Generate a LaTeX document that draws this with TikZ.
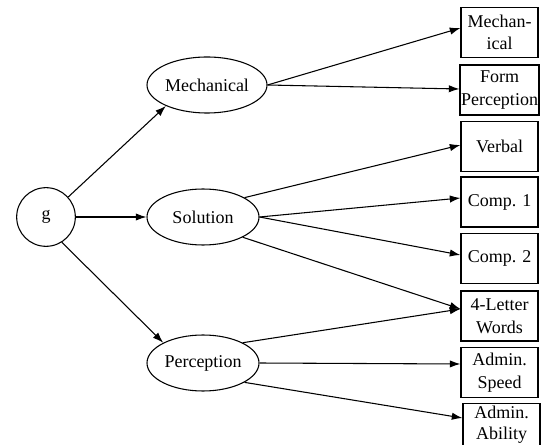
\documentclass[tikz,border=0pt]{standalone}
\usepackage{fontspec}
\setmainfont{Liberation Serif}
\usetikzlibrary{shapes.geometric,arrows.meta,calc}

\begin{document}
\begin{tikzpicture}[x=0.75pt,y=0.75pt,yscale=-1,xscale=1,
  every node/.style={font=\fontsize{13.5}{17}\selectfont},
  factor/.style={draw,ellipse,line width=0.8,minimum width=84pt,minimum height=42pt,inner sep=0pt},
  testbox/.style={draw,rectangle,line width=0.8,minimum width=57.75pt,minimum height=37.5pt,inner sep=0.75pt,align=center},
  link/.style={line width=0.8,-{Latex[length=8pt,width=5.5pt]}}]
\useasboundingbox (0,0) rectangle (546,445);

%Shape: Circle
\node [draw,circle,line width=0.8,minimum size=44pt,inner sep=0pt] (g) at (46,217) {g};
%Shape: Ellipses
\node [factor,minimum width=90pt] (mech) at (207,85) {Mechanical};
\node [factor] (sol) at (203,217) {Solution};
\node [factor] (perc) at (203,363) {Perception};

% Text Nodes
\node [testbox] (mechtest) at (499.5,32.5) {Mechan-\\ical};
\node [testbox] (form) at (499.5,90) {Form\\Perception};
\node [testbox] (verbal) at (499.5,146.5) {Verbal};
\node [testbox] (comp1) at (499.5,202) {Comp. 1};
\node [testbox] (comp2) at (499.5,258.5) {Comp. 2};
\node [testbox] (letters) at (499.5,316) {4-Letter\\Words};
\node [testbox] (speed) at (499.5,372.5) {Admin.\\Speed};
\node [testbox,minimum height=32pt,font=\fontsize{13.5}{15.5}\selectfont] (ability) at (501.5,425) {Admin.\\Ability};

%Straight Lines
\draw [link] (g.42) -- (mech.207);
\draw [link] (g.east) -- (sol.west);
\draw [link] (g.-58) -- (perc.153);
%Straight Lines
\draw [link] (mech.east) -- ($(mechtest.west)+(0,-4.5)$);
\draw [link] (mech.east) -- ($(form.west)+(0,-1)$);
%Straight Lines
\draw [link] (sol.25) -- ($(verbal.west)+(0,-1.5)$);
\draw [link] (sol.east) -- ($(comp1.west)+(0,-4)$);
\draw [link] (sol.east) -- ($(comp2.west)+(0,-3.5)$);
\draw [link] (sol.-27) -- ($(letters.west)+(0,-7)$);
%Straight Lines
\draw [link] (perc.27) -- ($(letters.west)+(0,-7)$);
\draw [link] (perc.east) -- ($(speed.west)+(0,-8.5)$);
\draw [link] (perc.-25) -- ($(ability.west)+(0,-7)$);

\end{tikzpicture}
\end{document}
